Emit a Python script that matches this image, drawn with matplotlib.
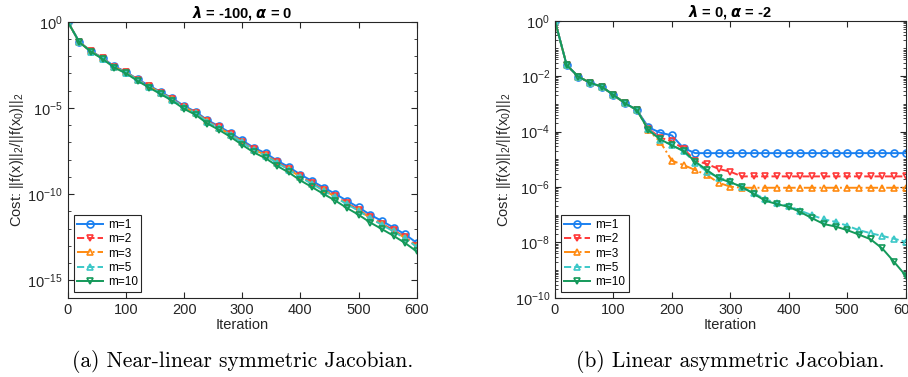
import numpy as np
import matplotlib
matplotlib.use("Agg")
import matplotlib.pyplot as plt
from matplotlib.ticker import FixedLocator, LogLocator, NullFormatter

plt.rcParams['font.family'] = ['Liberation Sans', 'DejaVu Sans']
plt.rcParams['mathtext.default'] = 'regular'

iters = list(range(0, 601, 20))
labels = ['m=1', 'm=2', 'm=3', 'm=5', 'm=10']

# cost exponents (cost = 10**-d)
# (a) lambda = -100, alpha = 0
a_m1 = [0, 1.17, 1.70, 2.10, 2.58, 2.90, 3.33, 3.70, 4.07, 4.44, 4.88, 5.22, 5.70, 6.06, 6.45, 6.88,
        7.30, 7.62, 8.05, 8.42, 8.86, 9.23, 9.61, 9.98, 10.38, 10.76, 11.19, 11.55, 11.93, 12.33, 12.82]
a_m2 = [0, 1.18, 1.72, 2.12, 2.61, 2.93, 3.36, 3.74, 4.11, 4.49, 4.93, 5.27, 5.76, 6.12, 6.52, 6.96,
        7.39, 7.71, 8.15, 8.52, 8.97, 9.35, 9.74, 10.11, 10.52, 10.90, 11.34, 11.70, 12.09, 12.49, 12.98]
a_m3 = [0, 1.18, 1.72, 2.13, 2.62, 2.94, 3.37, 3.75, 4.12, 4.50, 4.95, 5.29, 5.78, 6.14, 6.54, 6.98,
        7.41, 7.73, 8.17, 8.55, 9.00, 9.38, 9.77, 10.14, 10.55, 10.93, 11.37, 11.74, 12.13, 12.53, 13.02]
a_m5 = [0, 1.18, 1.73, 2.14, 2.63, 2.95, 3.38, 3.76, 4.13, 4.52, 4.96, 5.31, 5.80, 6.16, 6.56, 7.00,
        7.43, 7.76, 8.19, 8.57, 9.02, 9.40, 9.79, 10.17, 10.58, 10.96, 11.40, 11.77, 12.16, 12.56, 13.05]
a_m10 = [0, 1.19, 1.74, 2.16, 2.66, 2.99, 3.43, 3.82, 4.20, 4.59, 5.05, 5.40, 5.90, 6.27, 6.68, 7.14,
         7.58, 7.91, 8.36, 8.74, 9.20, 9.59, 9.99, 10.37, 10.80, 11.19, 11.64, 12.02, 12.41, 12.83, 13.32]

# (b) lambda = 0, alpha = -2
b_m1 = [0, 1.60, 2.02, 2.24, 2.38, 2.68, 2.98, 3.22, 3.85, 4.04, 4.14, 4.60, 4.78, 4.78, 4.78, 4.78,
        4.78, 4.78, 4.78, 4.78, 4.78, 4.78, 4.78, 4.78, 4.78, 4.78, 4.78, 4.78, 4.78, 4.78, 4.78]
b_m2 = [0, 1.60, 2.02, 2.24, 2.38, 2.68, 2.98, 3.22, 3.90, 4.22, 4.35, 4.62, 5.05, 5.17, 5.35, 5.45,
        5.62, 5.62, 5.62, 5.62, 5.62, 5.62, 5.62, 5.62, 5.62, 5.62, 5.62, 5.62, 5.62, 5.62, 5.62]
b_m3 = [0, 1.60, 2.02, 2.24, 2.38, 2.68, 2.98, 3.22, 3.95, 4.37, 5.05, 5.21, 5.39, 5.57, 5.85, 5.99,
        6.03, 6.03, 6.03, 6.03, 6.03, 6.03, 6.03, 6.03, 6.03, 6.03, 6.03, 6.03, 6.03, 6.03, 6.03]
b_m5 = [0, 1.60, 2.02, 2.24, 2.38, 2.68, 2.98, 3.22, 3.92, 4.30, 4.48, 4.72, 5.12, 5.45, 5.66, 5.80,
        6.02, 6.22, 6.45, 6.58, 6.69, 6.86, 7.02, 7.17, 7.26, 7.40, 7.56, 7.67, 7.77, 7.87, 7.98]
b_m10 = [0, 1.60, 2.02, 2.24, 2.38, 2.68, 2.98, 3.22, 3.95, 4.28, 4.50, 4.70, 5.09, 5.39, 5.69, 5.83,
         6.00, 6.25, 6.50, 6.62, 6.72, 6.91, 7.13, 7.34, 7.43, 7.56, 7.72, 7.89, 8.22, 8.70, 9.20]

colors = ['#1a80f0', '#ff3838', '#ff8a10', '#3cc8c8', '#14995a']
styles = ['-', '--', '-.', '--', '-']
markers = ['o', 'v', '^', '^', 'v']

fig = plt.figure(figsize=(9.08, 3.77), dpi=100)
ax1 = fig.add_axes([0.0746, 0.2103, 0.3844, 0.732])
ax2 = fig.add_axes([0.6112, 0.2103, 0.3862, 0.7347])

panels = [
    (ax1, [a_m1, a_m2, a_m3, a_m5, a_m10], r'$\mathbfit{\lambda}$ = -100, $\mathbfit{\alpha}$ = 0', (1e-16, 1e0),
     [1e0, 1e-5, 1e-10, 1e-15], '(a) Near-linear symmetric Jacobian.'),
    (ax2, [b_m1, b_m2, b_m3, b_m5, b_m10], r'$\mathbfit{\lambda}$ = 0, $\mathbfit{\alpha}$ = -2', (1e-10, 1e0),
     [1e0, 1e-2, 1e-4, 1e-6, 1e-8, 1e-10], '(b) Linear asymmetric Jacobian.'),
]

for ax, series, title, ylim, yt, cap in panels:
    for d, c, ls, mk, lab in zip(series, colors, styles, markers, labels):
        ax.semilogy(iters, 10.0 ** (-np.array(d)), linestyle=ls, color=c, marker=mk,
                    markersize=5, markerfacecolor='none', markeredgewidth=1.2,
                    linewidth=1.4, label=lab)
    ax.set_xlim(0, 600)
    ax.set_ylim(*ylim)
    ax.set_xticks(range(0, 601, 100))
    ax.yaxis.set_major_locator(FixedLocator(yt))
    ax.yaxis.set_minor_locator(LogLocator(base=10, subs=np.arange(1, 10) if len(yt) > 4 else [1.0], numticks=100))
    ax.yaxis.set_minor_formatter(NullFormatter())
    ax.tick_params(which='both', direction='in', top=True, right=True, labelsize=10.5, colors='#262626')
    ax.tick_params(which='major', length=4)
    ax.tick_params(which='minor', length=2)
    for s in ax.spines.values():
        s.set_linewidth(0.8)
        s.set_color('#262626')
    ax.set_title(title, fontsize=10.5, fontweight='bold', pad=3)
    ax.set_xlabel('Iteration', fontsize=10.5, labelpad=1, color='#262626')
    ax.set_ylabel(r'Cost: ||f(x)||$_2$/||f(x$_0$)||$_2$', fontsize=10.5, labelpad=1, color='#262626')
    leg = ax.legend(loc='lower left', fontsize=8.5, handlelength=2.2, borderaxespad=0.5,
                    fancybox=False, edgecolor='#262626', framealpha=1,
                    borderpad=0.3, labelspacing=0.2, handletextpad=0.4)
    leg.get_frame().set_linewidth(0.8)
    pos = ax.get_position()
    fig.text(pos.x0 + pos.width / 2, 0.04, cap, ha='center', va='center',
             fontsize=15.5, family='cmr10')

fig.savefig('out.png', dpi=100)
